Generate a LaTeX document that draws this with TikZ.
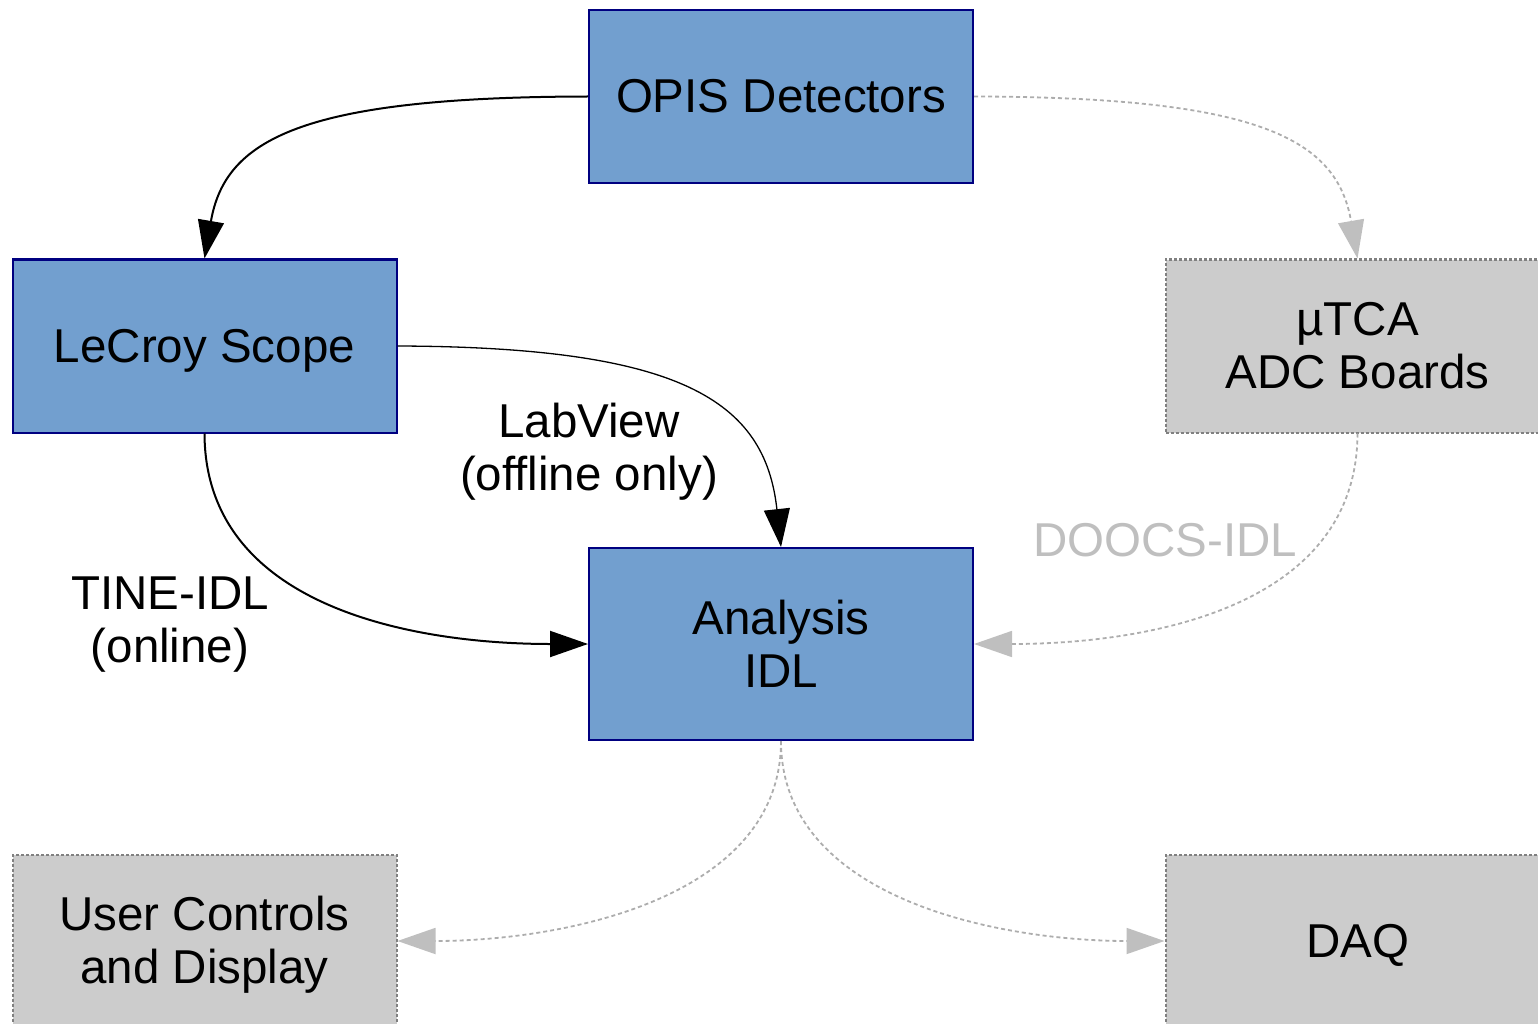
\documentclass[tikz,border=0pt]{standalone}
\usepackage{fontspec}
\setmainfont{Liberation Sans}
\usetikzlibrary{arrows.meta}
\definecolor{boxblue}{HTML}{729FCF}
\definecolor{boxnavy}{HTML}{000080}
\definecolor{boxgray}{HTML}{CCCCCC}
\definecolor{edgegray}{HTML}{808080}
\definecolor{linkgray}{HTML}{ADADAD}
\definecolor{labelgray}{HTML}{BFBFBF}
\tikzset{
  bluebox/.style={draw=boxnavy, fill=boxblue, line width=2pt, minimum width=384, minimum height=173, inner sep=0pt, align=center, font=\fontsize{47.5}{53}\selectfont},
  graybox/.style={draw=edgegray, fill=boxgray, line width=2pt, dash pattern=on 3pt off 2pt, minimum width=384, minimum height=173, inner sep=0pt, align=center, font=\fontsize{47.5}{53}\selectfont},
  lbl/.style={align=center, inner sep=0pt, font=\fontsize{47.5}{53}\selectfont},
  oneline/.style={text depth=0pt},
  blackarrow/.style={line width=2pt, -{Triangle[length=38pt,width=26pt]}},
  thinarrow/.style={line width=1.3pt, -{Triangle[length=38pt,width=26pt]}},
  grayarrow/.style={draw=linkgray, line width=1.8pt, dash pattern=on 4pt off 3pt, -{Triangle[length=38pt,width=26pt,color=labelgray]}},
}
\begin{document}
\begin{tikzpicture}[x=1pt,y=-1pt]
\useasboundingbox (0,0) rectangle (1538,1024);
\clip (0,0) rectangle (1538,1024);
\node[bluebox] (opis) at (781,96.5) {OPIS Detectors};
\node[bluebox, oneline] (lecroy) at (204.5,346) {LeCroy Scope};
\node[graybox] (utca) at (1357.5,346) {µTCA\\ADC Boards};
\node[bluebox, minimum height=192] (ana) at (781,644) {Analysis\\IDL};
\node[graybox] (user) at (204.5,941) {};
\node[lbl] (usertext) at (204.5,945) {User Controls\\and Display};
\node[graybox, oneline] (daq) at (1357.5,941) {DAQ};

\node[lbl] (lv) at (589,452) {LabView\\(offline only)};
\node[lbl] (tine) at (170,625) {TINE-IDL\\(online)};
\node[lbl, text=labelgray] (doocs) at (1165,540) {DOOCS-IDL};

\draw[blackarrow] (opis.west) .. controls (300,97) and (225,140) .. (lecroy.north);
\draw[grayarrow] (opis.east) .. controls (1262,97) and (1337,140) .. (utca.north);
\draw[thinarrow] (lecroy.east) .. controls (680,347) and (765,400) .. (ana.north);
\draw[blackarrow] (lecroy.south) .. controls (205,610) and (420,644) .. (ana.west);
\draw[grayarrow] (utca.south) .. controls (1357,610) and (1142,644) .. (ana.east);
\draw[grayarrow] (ana.south) .. controls (781,900) and (560,941) .. (user.east);
\draw[grayarrow] (ana.south) .. controls (781,900) and (1002,941) .. (daq.west);
\end{tikzpicture}
\end{document}
